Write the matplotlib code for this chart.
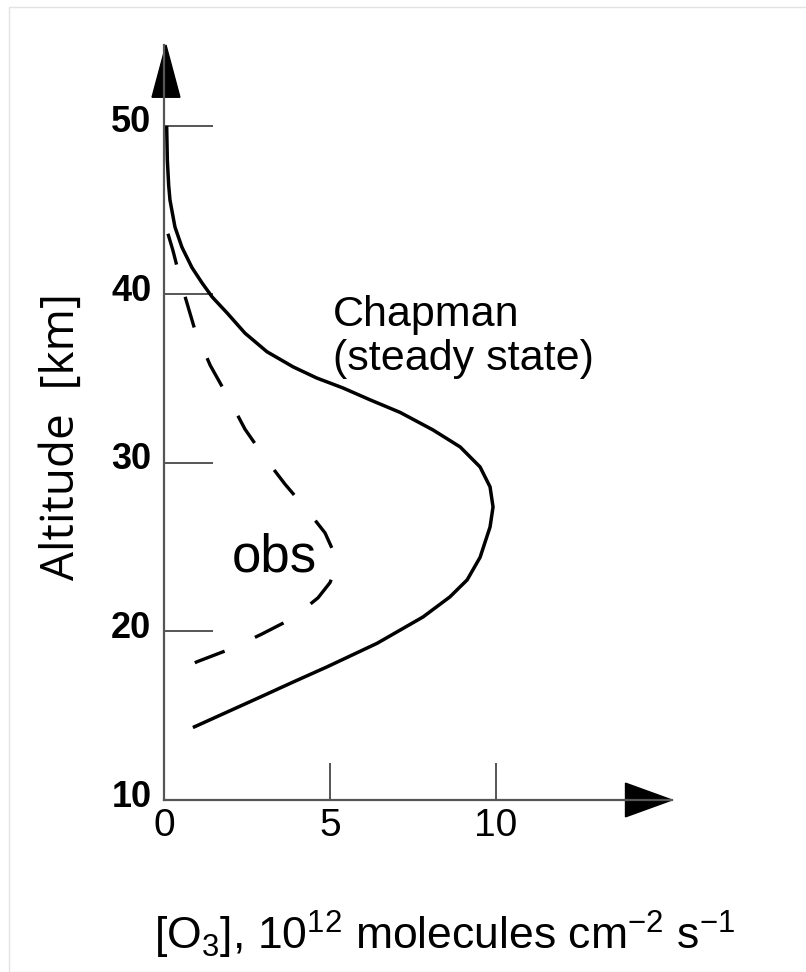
import numpy as np
import matplotlib.pyplot as plt
from matplotlib.patches import Polygon, Rectangle
from matplotlib.transforms import ScaledTranslation

plt.rcParams['font.family'] = ['Liberation Sans', 'DejaVu Sans']
plt.rcParams['mathtext.fontset'] = 'custom'
plt.rcParams['mathtext.rm'] = 'Liberation Sans'
plt.rcParams['mathtext.default'] = 'rm'

# Chapman steady-state ozone profile
chapman_o3 = [0.08, 0.10, 0.14, 0.18, 0.33, 0.54, 0.84, 1.14, 1.45, 1.9, 2.44, 3.1,
              3.89, 4.6, 5.39, 6.2, 7.11, 8.1, 8.92, 9.52, 9.82, 9.91, 9.82, 9.52,
              9.13, 8.61, 7.8, 6.42, 4.91, 3.89, 2.89, 0.87]
chapman_alt = [50.0, 48.0, 46.5, 45.6, 44.0, 42.8, 41.6, 40.7, 39.85, 38.9, 37.7, 36.6,
               35.7, 35.04, 34.45, 33.75, 33.0, 31.96, 30.95, 29.76, 28.58, 27.39, 26.2, 24.4,
               23.06, 22.05, 20.86, 19.3, 17.9, 17.0, 16.1, 14.3]

# observed profile
obs_o3 = [0.12, 0.27, 0.57, 0.93, 1.39, 1.93, 2.44, 3.04, 3.64, 4.31, 4.85, 5.09,
          5.18, 5.0, 4.64, 3.89, 2.95, 2.05, 0.99, 0.48]
obs_alt = [43.6, 42.6, 40.3, 37.9, 35.8, 33.9, 32.0, 30.3, 28.75, 27.2, 25.85, 24.8,
           23.8, 22.9, 22.0, 20.8, 19.85, 19.0, 18.2, 17.7]

x_ticks = [0, 5, 10]
y_ticks = [10, 20, 30, 40, 50]

W, H = 806, 972
fig = plt.figure(figsize=(W / 100, H / 100), dpi=100)
ax = fig.add_axes([164 / W, 172 / H, 508 / W, 755 / H])
ax.set_xlim(0, 15.3)
ax.set_ylim(10, 54.8)

ax.plot(chapman_o3, chapman_alt, color='black', lw=2.5, solid_joinstyle='round',
        solid_capstyle='butt', clip_on=False)
ax.plot(obs_o3, obs_alt, color='black', lw=2.4, dashes=(9.6, 10), clip_on=False)

for side in ('top', 'right'):
    ax.spines[side].set_visible(False)
for side in ('left', 'bottom'):
    ax.spines[side].set_color('#555555')
    ax.spines[side].set_linewidth(1.6)

ax.set_yticks(y_ticks)
ax.set_yticklabels([str(v) for v in y_ticks], fontsize=26, fontweight='bold')
ax.tick_params(axis='y', direction='in', length=35, width=1.4, color='#555555', pad=9)
for lab in ax.get_yticklabels():
    lab.set_transform(lab.get_transform() + ScaledTranslation(0, 7 / 100, fig.dpi_scale_trans))

ax.set_xticks(x_ticks)
ax.set_xticklabels([str(v) for v in x_ticks], fontsize=28)
ax.tick_params(axis='x', direction='in', length=27, width=1.4, color='#555555', pad=6)
ax.xaxis.get_major_ticks()[0].tick1line.set_visible(False)

# arrow heads on both axes
ax.add_patch(Polygon([[15.3, 10], [13.9, 11.0], [13.9, 9.0]], closed=True,
                     color='black', clip_on=False))
ax.add_patch(Polygon([[0.06, 54.8], [-0.36, 51.7], [0.48, 51.7]], closed=True,
                     color='black', clip_on=False))

ax.text(5.09, 38.13, 'Chapman', fontsize=31, va='baseline')
ax.text(5.09, 35.5, '(steady state)', fontsize=31, va='baseline')
ax.text(2.05, 23.53, 'obs', fontsize=38, va='baseline')

fig.text(62 / W, 1 - 436 / H, 'Altitude  [km]', rotation=90, fontsize=33,
         family=['Open Sans', 'DejaVu Sans'], ha='center', va='center')
fig.text(445 / W, 22 / H, r'[O$_3$], 10$^{12}$ molecules cm$^{-2}$ s$^{-1}$',
         fontsize=32, ha='center', va='baseline')

fig.patches.append(Rectangle((9 / W, 0), 1.0, 1 - 7 / H, transform=fig.transFigure,
                             fill=False, edgecolor='#e2e2e2', lw=1))

fig.savefig('out.png', dpi=100)
